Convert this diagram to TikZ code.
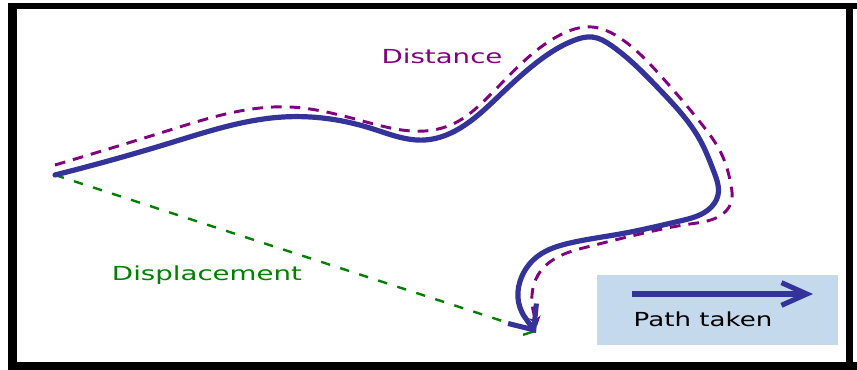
\documentclass[tikz,border=0pt]{standalone}
\usepackage{graphicx}
\usepackage{fontspec}
\setmainfont{DejaVu Sans}
\usetikzlibrary{arrows.meta,hobby}
\definecolor{pathblue}{RGB}{51,51,153}
\definecolor{distpurple}{RGB}{128,0,128}
\definecolor{dispgreen}{RGB}{0,128,0}
\definecolor{legendfill}{RGB}{197,217,236}
\tikzset{
  framebar/.style={fill=black},
  bluepath/.style={draw=pathblue, line width=3.9pt, line cap=round, line join=round,
    -{Straight Barb[length=15pt,width=26pt,line width=3.8pt]}},
  purplepath/.style={draw=distpurple, line width=2.2pt, dash pattern=on 8pt off 6pt,
    -{Stealth[length=7pt,width=9pt]}},
  greenpath/.style={draw=dispgreen, line width=1.8pt, dash pattern=on 7pt off 8pt,
    -{Straight Barb[length=7pt,width=10pt,line width=1.8pt]}},
  legendarrow/.style={draw=pathblue, line width=4pt,
    -{Straight Barb[length=19pt,width=17pt,line width=3.8pt]}},
  labeltext/.style={font=\fontsize{14.5}{16}\selectfont, anchor=base, inner sep=0pt},
}
\begin{document}
\begin{tikzpicture}[x=0.75pt,y=-0.75pt]
\useasboundingbox (0,0) rectangle (857,370);
\fill[white] (0,0) rectangle (857,370);
% frame
\fill[framebar] (8,3) rectangle (857,9);
\fill[framebar] (8,3) rectangle (16.5,370);
\fill[framebar] (8,362.5) rectangle (857,370);
\fill[framebar] (846,3) rectangle (853,370);

% key points
\coordinate (start) at (55,175);
\coordinate (finish) at (536,332);

% legend
\node[fill=legendfill, inner sep=0pt, minimum width=180.75pt, minimum height=52.5pt,
  anchor=north west] (legend) at (597,275) {};
\coordinate (legA) at (632,294);
\coordinate (legB) at (813,294);
\draw[legendarrow] (legA) -- (legB);
\node[labeltext, text=black] (pathlabel) at (703,327) {\scalebox{1.35}[1]{Path taken}};

% displacement
\draw[greenpath] (start) -- (finish);

% distance (dashed)
\draw[purplepath, use Hobby shortcut] (55,165) .. (170,130) .. (290,107) .. (370,123)
  .. (425,131) .. (455,123) .. (485,100) .. (523,62) .. (560,35) .. (592,27) .. (620,38)
  .. (660,75) .. (700,122) .. (722,155) .. (731,185) .. (731,203) .. (718,217)
  .. (690,224) .. (640,234) .. (587,247) .. (556,258) .. (538,275) .. (532,295)
  .. (533,310) -- (537,326);

% path taken
\draw[bluepath, use Hobby shortcut] (start) .. (170,143) .. (283,117) .. (370,128)
  .. (425,140) .. (465,125) .. (500,95) .. (540,60) .. (575,40) .. (592,37) .. (612,46)
  .. (660,90) .. (700,140) .. (714,172) .. (718,195) .. (708,210) .. (680,221)
  .. (620,234) .. (570,243) .. (538,256) .. (522,276) .. (518,298) .. (524,316) -- (536,333);

% labels
\node[labeltext, text=distpurple] (distlabel) at (442,64) {\scalebox{1.43}[1]{Distance}};
\node[labeltext, text=dispgreen] (displabel) at (207,281) {\scalebox{1.43}[1]{Displacement}};
\end{tikzpicture}
\end{document}
